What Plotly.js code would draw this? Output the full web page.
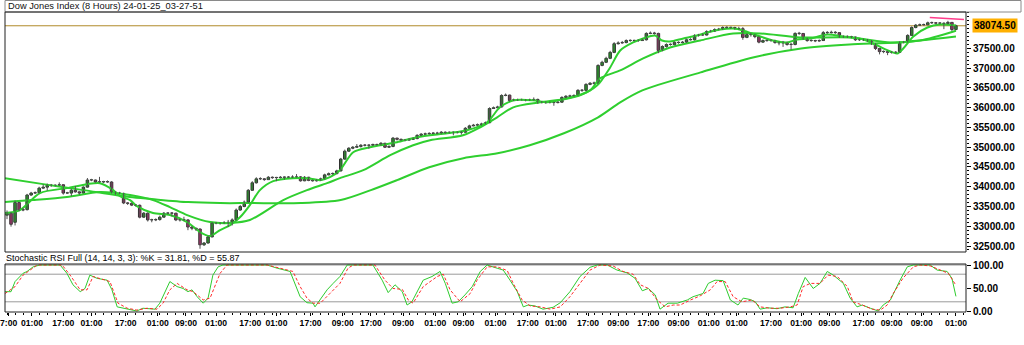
<!DOCTYPE html>
<html><head><meta charset="utf-8">
<script src="https://cdn.plot.ly/plotly-3.0.1.min.js"></script>
<style>html,body{margin:0;padding:0;background:#fff;}#chart{width:1024px;height:345px;}</style>
</head><body><div id="chart"></div>
<script>
// ---- 8-hour OHLC bars (bar index = position in arrays) ----
const openPx = [
33280,33330,33100,33600,33410,33420,33790,33840,33850,33965,
33990,34040,34030,34040,34050,33840,33840,33910,33870,33840,
33990,34170,34170,34120,34120,34130,34120,33860,33840,33830,
33590,33580,33535,33530,33230,33330,33160,33160,33170,33230,
33330,33330,33330,33160,33160,33160,32980,32950,32930,32530,
32575,32730,33080,33080,33080,33090,33100,33160,33410,33500,
33610,33910,34100,34200,34200,34180,34240,34230,34230,34240,
34240,34240,34240,34250,34150,34240,34160,34150,34160,34200,
34300,34330,34330,34400,34700,34900,34975,35000,35020,35050,
35050,35050,35070,35060,35100,35000,35020,35230,35200,35180,
35180,35200,35220,35300,35330,35340,35350,35360,35350,35380,
35360,35380,35370,35380,35380,35480,35540,35560,35570,35590,
35620,35980,36000,36020,36310,36320,36180,36200,36200,36200,
36190,36200,36210,36130,36140,36130,36130,36130,36140,36260,
36290,36300,36310,36440,36440,36590,36620,36620,37070,37150,
37250,37400,37620,37640,37650,37700,37700,37700,37700,37720,
37880,37890,37880,37450,37550,37600,37600,37650,37650,37660,
37720,37720,37830,37840,37840,37930,37940,37980,37990,38030,
38030,38030,38000,38000,37780,37850,37850,37800,37660,37700,
37700,37700,37650,37640,37650,37600,37600,37880,37880,37750,
37700,37700,37690,37700,37900,37900,37910,37900,37800,37800,
37800,37790,37720,37720,37720,37700,37620,37500,37420,37420,
37400,37400,37400,37650,37660,37830,38030,38090,38100,38100,
38150,38150,38140,38140,38130,38160,37980];
const highPx = [
33400,33360,33650,33620,33460,33820,33870,33880,34000,34060,
34080,34070,34060,34110,34060,33870,33950,34020,33880,34010,
34220,34200,34180,34250,34150,34160,34140,33880,33870,33850,
33610,33600,33560,33550,33360,33350,33190,33200,33270,33360,
33350,33360,33340,33190,33240,33170,33000,32960,32940,32600,
32760,33110,33110,33100,33130,33160,33200,33450,33540,33650,
33940,34140,34240,34240,34220,34270,34260,34250,34270,34260,
34270,34290,34320,34270,34270,34250,34180,34190,34230,34330,
34360,34360,34430,34730,34940,35000,35030,35080,35080,35080,
35070,35090,35090,35130,35110,35050,35260,35240,35220,35210,
35230,35250,35330,35360,35370,35380,35380,35390,35410,35400,
35400,35400,35400,35410,35510,35570,35590,35600,35620,35650,
36010,36030,36050,36340,36360,36330,36230,36230,36230,36220,
36230,36260,36230,36170,36160,36160,36150,36170,36290,36320,
36330,36340,36470,36470,36620,36650,36660,37100,37190,37290,
37440,37660,37680,37690,37730,37730,37720,37730,37750,37910,
37930,37920,37900,37580,37630,37630,37680,37680,37690,37750,
37760,37860,37870,37880,37960,37970,38010,38020,38060,38060,
38050,38050,38050,38040,37880,37890,37870,37810,37730,37730,
37730,37720,37680,37690,37670,37640,37910,37920,37890,37770,
37730,37720,37730,37940,37940,37950,37940,37910,37830,37830,
37820,37800,37750,37750,37740,37710,37630,37510,37450,37440,
37430,37430,37680,37690,37860,38060,38120,38130,38130,38180,
38180,38170,38160,38160,38200,38170,38100];
const lowPx = [
33180,32990,33020,33380,33380,33400,33770,33820,33830,33950,
33900,34000,34010,34020,33800,33820,33760,33850,33800,33830,
33980,34140,34100,34100,34090,34100,33830,33800,33810,33560,
33540,33510,33500,33200,33210,33120,33100,33130,33140,33220,
33300,33250,33130,33120,33130,32900,32900,32880,32430,32500,
32560,32720,33050,33040,33060,32980,33020,33140,33390,33480,
33590,33900,34080,34170,34150,34170,34200,34140,34210,34180,
34220,34220,34230,34130,34140,34140,34130,34130,34150,34180,
34290,34300,34320,34390,34680,34880,34950,34990,34990,35020,
34960,35030,35040,35040,34980,34990,35000,35170,35160,35150,
35170,35190,35200,35280,35310,35320,35330,35330,35330,35340,
35350,35300,35350,35320,35370,35470,35530,35540,35550,35580,
35610,35970,35990,36010,36290,36150,36170,36170,36180,36160,
36170,36180,36100,36110,36100,36110,36050,36110,36130,36240,
36270,36280,36300,36400,36420,36570,36590,36610,37050,37130,
37230,37380,37600,37620,37630,37670,37680,37670,37690,37700,
37860,37850,37380,37430,37520,37570,37580,37620,37630,37640,
37700,37700,37800,37820,37830,37910,37920,37960,37970,38000,
38000,37980,37980,37720,37760,37800,37760,37630,37640,37670,
37670,37620,37580,37540,37570,37470,37580,37840,37720,37670,
37670,37660,37670,37690,37870,37880,37870,37770,37770,37770,
37760,37690,37690,37690,37670,37590,37460,37350,37380,37330,
37370,37370,37390,37630,37650,37820,38010,38070,38080,38090,
38120,38110,38110,37990,38110,37940,37960];
const closePx = [
33330,33050,33600,33410,33420,33790,33840,33850,33965,33990,
34040,34030,34040,34050,33840,33840,33910,33870,33840,33990,
34170,34170,34120,34120,34130,34120,33860,33840,33830,33590,
33580,33535,33530,33230,33330,33160,33160,33170,33230,33330,
33330,33330,33160,33160,33160,32980,32950,32930,32530,32575,
32730,33080,33080,33080,33090,33100,33160,33410,33500,33610,
33910,34100,34200,34200,34180,34240,34230,34230,34240,34240,
34240,34240,34250,34150,34240,34160,34150,34160,34200,34300,
34330,34330,34400,34700,34900,34975,35000,35020,35050,35050,
35050,35070,35060,35100,35000,35020,35230,35200,35180,35180,
35200,35220,35300,35330,35340,35350,35360,35350,35380,35360,
35380,35370,35380,35380,35480,35540,35560,35570,35590,35620,
35980,36000,36020,36310,36320,36180,36200,36200,36200,36190,
36200,36210,36130,36140,36130,36130,36130,36140,36260,36290,
36300,36310,36440,36440,36590,36620,36620,37070,37150,37250,
37400,37620,37640,37650,37700,37700,37700,37700,37720,37880,
37890,37880,37450,37550,37600,37600,37650,37650,37660,37720,
37720,37830,37840,37840,37930,37940,37980,37990,38030,38030,
38030,38000,38000,37780,37850,37850,37800,37660,37700,37700,
37700,37650,37640,37650,37600,37600,37880,37880,37750,37700,
37700,37690,37700,37900,37900,37910,37900,37800,37800,37800,
37790,37720,37720,37720,37700,37620,37500,37420,37420,37400,
37400,37400,37650,37660,37830,38030,38090,38100,38100,38150,
38150,38140,38140,38130,38160,37980,38074.5];
const lastPrice = 38074.5;

// ---- moving averages (bar index, value) ----
const maFastX = [-0.5,3.2,8.2,14.9,23.1,26.4,28.1,30.6,32.3,36.3,40.5,44.8,48,50.5,53,55.5,58,60.4,62.9,66.2,71.1,74.6,77.9,80.3,82.8,86.1,90.3,92.8,97,102,109.5,114.4,119.4,122.6,126,130.8,134.3,138.3,142.5,146.8,150,152.5,155.7,158.2,161.2,162.9,164.9,168.2,171.6,174.1,177.4,180.6,183.1,186.6,190.5,194,196.5,199.8,204,208,213,216.4,219.7,221.4,222.9,225.4,228.9,232.1,236];
const maFastY = [33334,33410,33839,33965,34091,33914,33763,33662,33510,33334,33283,33106,32854,32753,32904,33030,33233,33536,33914,34142,34217,34217,34167,34243,34419,34874,35000,35051,35126,35253,35354,35430,35632,36010,36187,36187,36136,36212,36313,36566,37020,37449,37652,37753,37828,37702,37677,37753,37828,37904,37980,38005,37955,37828,37702,37652,37727,37753,37854,37803,37727,37576,37424,37374,37500,37803,38030,38106,38081];
const maMidX = [-0.5,6.5,14.9,23.1,30.6,36.3,40.5,44.8,50.5,55.5,60.4,68.7,74.6,79.6,82.8,88.6,95.3,101,105.2,113.4,117.7,121.9,125.9,132.6,139.3,145,147.5,152.5,158.2,164.9,172.4,180.6,187.3,197.3,209.7,219.7,227.1,236];
const maMidY = [33611,33662,33738,33864,33788,33662,33485,33283,33106,33081,33157,33662,33914,34091,34217,34419,34798,35051,35177,35303,35505,35758,36010,36136,36237,36439,36743,36944,37248,37525,37702,37879,37879,37778,37778,37652,37702,37950];
const maSlowX = [-0.5,9,19,30.5,36,45,53,60.5,73,83,90.5,97,105,113.5,122,130,138.5,147,152.5,158,172.5,185.5,197.5,209.5,221.5,236];
const maSlowY = [34217,34066,33914,33738,33687,33611,33586,33586,33586,33662,33914,34167,34495,34722,34849,35051,35354,35758,36136,36439,36894,37273,37500,37601,37652,37803];

// short resistance line (magenta)
const resX = [229.5, 238];
const resY = [38283, 38232];

// ---- Stochastic RSI Full (14,14,3,3) ----
const kX = [-0.5,1,2,4,5,6.5,8.2,13.2,14.9,16.4,18.2,19.4,20.6,22.4,24.9,26.1,27.4,28.9,30.6,32.3,33.8,36.8,38,39.3,40.5,42.3,43.8,45,46,47.3,48.8,50,51.2,52.5,53.7,64.7,67.2,70.4,71.6,72.9,74.6,76.1,76.6,77.9,79.6,81.1,82.8,84.6,91,93.3,94.8,96.5,98.3,99.5,100.7,103.5,105.7,107.7,109,110.7,112.2,113.9,115.7,117.7,119.4,121.9,123.4,125.1,126.9,128.4,129.6,131.3,133.3,135.8,137.6,140,142.5,145,146.8,149.3,151.7,154.2,156.2,158,159.5,161.2,162.4,164.4,166.7,169.2,170.6,173.1,174.4,176.1,178.1,179.9,181.8,183.1,184.8,186.1,187.3,189.1,191.5,193.5,195.5,196.8,198.5,200.5,202.2,204,205.5,208,209.7,211.4,212.7,214.7,216.7,217.9,219.7,222.1,223.9,225.4,229.6,231.3,233.8,235,236];
const kY = [42,42,64,82,86,96,100,100,82,57,42,49,78,71,67,46,9,6,2,0,6,4,17,42,64,53,49,42,46,31,17,28,78,96,100,100,93,86,60,31,18,17,9,24,46,60,75,100,100,67,40,57,42,13,20,67,75,86,60,17,20,35,53,86,100,93,89,67,42,9,13,11,4,8,18,42,75,95,100,100,89,83,71,44,49,35,4,17,17,24,31,38,60,67,66,24,13,28,25,20,4,7,5,9,7,38,73,49,60,86,78,60,28,9,13,6,0,13,24,67,96,100,100,89,86,71,31.81];
const dX = [-0.5,2,4,5.7,7.5,13.7,15.7,18.2,19.9,21.4,23.1,25.6,27.6,29.9,32.3,34.8,37.3,38.8,40.5,42.3,44.8,46.3,48.8,50.5,53,54.7,64.7,67.9,71.1,72.9,74.6,76.1,77.9,80.3,82.8,84.8,86.1,91.5,94,96,98.3,99.8,101,103.5,107,108.5,110.2,112.7,115.2,116.9,119.4,121.9,124.4,125.9,128.1,130.1,132.6,135.1,137.6,140,142.5,145,147.5,150.7,153.2,155.7,157.5,159.5,161.7,163.7,165.7,167.4,170,172.4,174.9,176.6,178.6,180.6,182.8,185.3,187.3,189.8,192.3,194.8,196.5,198,199.8,202.2,204.2,206.5,209,210.4,212.7,215.2,217.2,218.9,220.4,222.8,225.4,227.1,229.6,232.1,234.1,236];
const dY = [38,53,78,89,100,100,78,46,46,75,71,64,17,6,2,6,4,17,46,60,46,42,24,28,82,100,100,93,86,53,28,17,17,38,60,93,100,100,67,49,47,24,17,53,75,80,46,20,38,67,96,96,88,60,24,11,9,4,9,31,60,89,100,98,86,80,57,49,24,9,13,13,24,33,46,64,64,31,20,24,9,6,6,9,13,53,60,60,78,75,53,20,13,4,2,13,38,71,96,100,98,89,82,55.87];
const stochLevels = [20, 80, 100];

// ---- time axis labels (bar index, text) ----
const tickPos = [0.4,6.2,14,21,29.5,37.5,44.5,52,60.5,67,75.5,83.5,90.5,98.5,106.5,113.5,121.5,129.5,136.5,144.5,152,159.5,167,174.5,181.5,190,197.5,204.5,213,220,227.5,236];
const tickText = ['7:00','01:00','17:00','01:00','17:00','01:00','09:00','01:00','17:00','01:00','17:00','09:00','17:00','09:00','01:00','09:00','01:00','17:00','01:00','17:00','09:00','17:00','09:00','01:00','01:00','17:00','01:00','09:00','17:00','09:00','09:00','01:00'];
const priceTicks = [32500,33000,33500,34000,34500,35000,35500,36000,36500,37000,37500];

const chartTitle = 'Dow Jones Index (8 Hours) 24-01-25_03-27-51';
const stochTitle = 'Stochastic RSI Full (14, 14, 3, 3): %K = 31.81, %D = 55.87';

// ---- derived drawing helpers (straight from the OHLC arrays) ----
const barIndex = closePx.map((_, i) => i);
const bodyBase = openPx.map((o, i) => Math.min(o, closePx[i]));
const bodySize = openPx.map((o, i) => Math.max(Math.abs(closePx[i] - o), 6));
const bodyColor = openPx.map((o, i) => closePx[i] >= o ? '#00d400' : '#e0157a');
const wickX = [], wickY = [];
barIndex.forEach(i => { wickX.push(i, i, null); wickY.push(lowPx[i], highPx[i], null); });

const FONT = 'Liberation Sans, Arial, sans-serif';
const MAC = '#2fcf2f';

const traces = [
  {type:'scatter', mode:'lines', x:maSlowX, y:maSlowY, line:{color:MAC, width:2, shape:'spline', smoothing:0.8}, xaxis:'x', yaxis:'y', hoverinfo:'skip'},
  {type:'scatter', mode:'lines', x:maMidX, y:maMidY, line:{color:MAC, width:2, shape:'spline', smoothing:0.8}, xaxis:'x', yaxis:'y', hoverinfo:'skip'},
  {type:'scatter', mode:'lines', x:maFastX, y:maFastY, line:{color:MAC, width:2, shape:'spline', smoothing:0.8}, xaxis:'x', yaxis:'y', hoverinfo:'skip'},
  {type:'scatter', mode:'lines', x:wickX, y:wickY, line:{color:'#505050', width:1}, xaxis:'x', yaxis:'y', hoverinfo:'skip', connectgaps:false},
  {type:'bar', x:barIndex, y:bodySize, base:bodyBase, width:0.62, xaxis:'x', yaxis:'y',
   marker:{color:bodyColor, line:{color:'#303030', width:1}}, hoverinfo:'skip'},
  {type:'scatter', mode:'lines', x:resX, y:resY, line:{color:'#ff3d8b', width:1.5}, xaxis:'x', yaxis:'y', hoverinfo:'skip'},
  {type:'scatter', mode:'lines', x:kX, y:kY, line:{color:'#2ecc2e', width:1}, xaxis:'x', yaxis:'y2', hoverinfo:'skip'},
  {type:'scatter', mode:'lines', x:dX, y:dY, line:{color:'#ff2a2a', width:1, dash:'3px,2px'}, xaxis:'x', yaxis:'y2', hoverinfo:'skip'}
];

const shapes = [
  {type:'rect', xref:'paper', yref:'paper', x0:0, x1:(1021-5)/961, y0:1.0, y1:(312-0.5)/300, line:{color:'#8a8a8a', width:1}, fillcolor:'rgba(0,0,0,0)'},
  {type:'rect', xref:'paper', yref:'paper', x0:0, x1:1, y0:0.2, y1:1, line:{color:'#202020', width:1}},
  {type:'line', xref:'paper', yref:'y', x0:0, x1:1, y0:lastPrice, y1:lastPrice, line:{color:'#b08a2a', width:1}, layer:'below'},
];
stochLevels.forEach(v => shapes.push({type:'line', xref:'paper', yref:'y2', x0:0, x1:1, y0:v, y1:v, line:{color:'#9a9a9a', width:1}, layer:'below'}));
shapes.push({type:'rect', xref:'paper', yref:'paper', x0:0, x1:1, y0:0, y1:0.16, line:{color:'#202020', width:1}});

const layout = {
  width:1024, height:345,
  margin:{l:5, r:58, t:12, b:33, pad:0},
  paper_bgcolor:'#ffffff', plot_bgcolor:'#ffffff',
  showlegend:false, bargap:0,
  font:{family:FONT, size:9, color:'#000'},
  xaxis:{anchor:'y2', range:[-0.5, 238.5], showgrid:false, zeroline:false, showline:false,
         tickmode:'array', tickvals:tickPos, ticktext:tickText, tickangle:0, ticklabeloverflow:'allow',
         ticks:'outside', ticklen:3, tickcolor:'#000',
         minor:{dtick:2, tick0:0, ticks:'outside', ticklen:2, tickcolor:'#000', showgrid:false},
         tickfont:{family:FONT, size:8.6, weight:'bold', color:'#000'}, fixedrange:true},
  yaxis:{domain:[0.2, 1], side:'right', range:[32348, 38423], showgrid:false, zeroline:false, showline:false,
         tickmode:'array', tickvals:priceTicks, ticktext:priceTicks.map(v => v.toFixed(2)),
         ticks:'outside', ticklen:4, tickcolor:'#000',
         minor:{dtick:100, tick0:0, ticks:'outside', ticklen:2, tickcolor:'#000', showgrid:false},
         tickfont:{family:FONT, size:10, weight:'bold', color:'#000'}, fixedrange:true},
  yaxis2:{domain:[0, 0.16], side:'right', range:[-2.17, 102.17], showgrid:false, zeroline:false, showline:false,
         tickmode:'array', tickvals:[0,50,100], ticktext:['0.00','50.00','100.00'],
         ticks:'outside', ticklen:4, tickcolor:'#000',
         tickfont:{family:FONT, size:10, weight:'bold', color:'#000'}, fixedrange:true},
  shapes:shapes,
  annotations:[
    {xref:'paper', yref:'paper', x:(6-5)/961, y:(312-6)/300, xanchor:'left', yanchor:'middle', showarrow:false,
     text:chartTitle, font:{family:FONT, size:9.3, color:'#111'}},
    {xref:'paper', yref:'paper', x:(4-5)/961, y:(312-258)/300, xanchor:'left', yanchor:'middle', showarrow:false,
     text:stochTitle, font:{family:FONT, size:9, color:'#000'}},
    {xref:'paper', yref:'y', x:(972-5)/961, y:lastPrice, xanchor:'left', yanchor:'middle', showarrow:false,
     text:lastPrice.toFixed(2), bgcolor:'#ffb000', borderpad:1,
     font:{family:FONT, size:10, weight:'bold', color:'#000'}}
  ]
};

Plotly.newPlot('chart', traces, layout, {staticPlot:true, displayModeBar:false});
</script></body></html>
